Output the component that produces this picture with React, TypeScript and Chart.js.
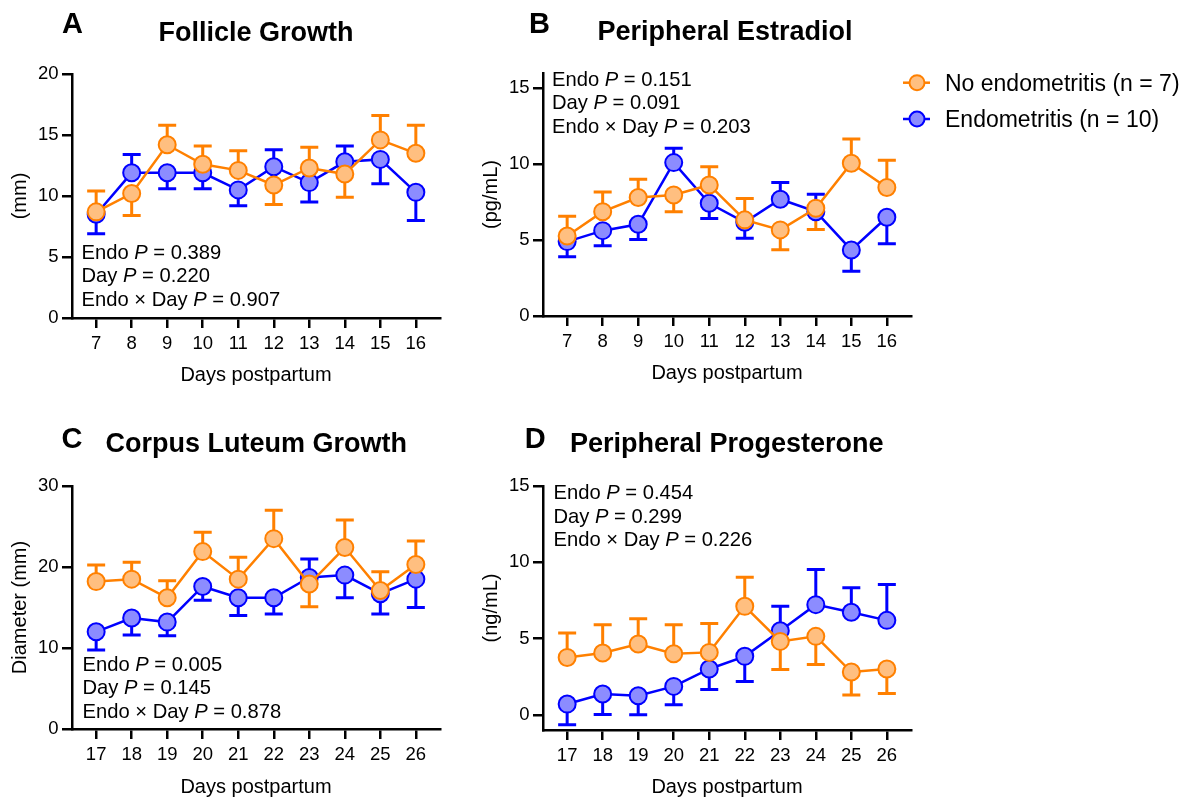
import React, { useEffect, useRef } from 'react';
import { Chart, registerables } from 'chart.js';

Chart.register(...registerables);

// ---------------- data ----------------
const daysEarly = [7, 8, 9, 10, 11, 12, 13, 14, 15, 16];
const daysLate = [17, 18, 19, 20, 21, 22, 23, 24, 25, 26];

// A: Follicle growth (mm); errors are SEM, sign gives drawing direction (+ up, - down)
const follicleNoEndo = [8.7, 10.2, 14.2, 12.6, 12.1, 10.9, 12.3, 11.8, 14.6, 13.5];
const follicleNoEndoErr = [1.7, -1.8, 1.6, 1.5, 1.6, -1.6, 1.7, -1.9, 2.0, 2.3];
const follicleEndo = [8.5, 11.9, 11.9, 11.9, 10.5, 12.4, 11.1, 12.8, 13.0, 10.3];
const follicleEndoErr = [-1.6, 1.5, -1.3, -1.3, -1.3, 1.4, -1.6, 1.3, -2.0, -2.3];

// B: Peripheral estradiol (pg/mL)
const e2NoEndo = [5.27, 6.87, 7.8, 7.97, 8.63, 6.33, 5.67, 7.09, 10.06, 8.46];
const e2NoEndoErr = [1.3, 1.3, 1.2, -1.1, 1.2, 1.4, -1.3, -1.4, 1.6, 1.8];
const e2Endo = [4.9, 5.62, 6.04, 10.1, 7.42, 6.17, 7.69, 6.87, 4.35, 6.5];
const e2EndoErr = [-1.0, -1.0, -1.0, 0.95, -1.0, -1.05, 1.1, 1.15, -1.4, -1.75];

// C: Corpus luteum diameter (mm)
const clNoEndo = [18.2, 18.5, 16.2, 21.9, 18.5, 23.5, 17.9, 22.4, 17.1, 20.3];
const clNoEndoErr = [2.05, 2.1, 2.1, 2.4, 2.7, 3.5, -2.8, 3.4, 2.3, 2.9];
const clEndo = [12.0, 13.7, 13.2, 17.6, 16.2, 16.2, 18.7, 19.0, 16.7, 18.5];
const clEndoErr = [-2.25, -2.1, -1.7, -1.7, -2.2, -2.0, 2.3, -2.8, -2.5, -3.5];

// D: Peripheral progesterone (ng/mL)
const p4NoEndo = [3.76, 4.05, 4.64, 4.0, 4.09, 7.11, 4.81, 5.14, 2.8, 3.0];
const p4NoEndoErr = [1.6, 1.85, 1.65, 1.9, 1.9, 1.9, -1.85, -1.85, -1.5, -1.6];
const p4Endo = [0.7, 1.36, 1.25, 1.86, 3.0, 3.83, 5.51, 7.22, 6.72, 6.19];
const p4EndoErr = [-1.35, -1.35, -1.25, -1.2, -1.35, -1.65, 1.6, 2.3, 1.6, 2.35];

const ticksA = [0, 5, 10, 15, 20];
const ticksB = [0, 5, 10, 15];
const ticksC = [0, 10, 20, 30];
const ticksD = [0, 5, 10, 15];

const statsA = ['0.389', '0.220', '0.907'];
const statsB = ['0.151', '0.091', '0.203'];
const statsC = ['0.005', '0.145', '0.878'];
const statsD = ['0.454', '0.299', '0.226'];

const seriesLabels = ['No endometritis (n = 7)', 'Endometritis (n = 10)'];

// ---------------- styles ----------------
const FONT = '"Liberation Sans", Arial, Helvetica, sans-serif';
const ORANGE = '#FF8000';
const ORANGE_FILL = '#FFBF80';
const BLUE = '#0000FF';
const BLUE_FILL = '#8C8CFF';

type Seg = { t: string; i?: boolean };

function drawRich(ctx: CanvasRenderingContext2D, segs: Seg[], x: number, y: number, size: number) {
  let cx = x;
  ctx.textBaseline = 'alphabetic';
  ctx.textAlign = 'left';
  for (const s of segs) {
    ctx.font = `${s.i ? 'italic ' : ''}${size}px ${FONT}`;
    ctx.fillText(s.t, cx, y);
    cx += ctx.measureText(s.t).width;
  }
}

const errorBarPlugin = {
  id: 'errorBars',
  beforeDatasetsDraw(chart: any) {
    const ctx = chart.ctx;
    const ys = chart.scales.y;
    chart.data.datasets.forEach((ds: any, i: number) => {
      const meta = chart.getDatasetMeta(i);
      ctx.save();
      ctx.strokeStyle = ds.borderColor;
      ctx.lineWidth = 3;
      ctx.lineCap = 'butt';
      meta.data.forEach((pt: any, j: number) => {
        const v = ds.data[j].y;
        const e = ds.errors[j];
        const yEnd = ys.getPixelForValue(v + e);
        ctx.beginPath();
        ctx.moveTo(pt.x, pt.y);
        ctx.lineTo(pt.x, yEnd);
        ctx.moveTo(pt.x - 9, yEnd);
        ctx.lineTo(pt.x + 9, yEnd);
        ctx.stroke();
      });
      ctx.restore();
    });
  },
};

type PanelProps = {
  left: number; top: number; width: number; height: number;
  area: { l: number; t: number; r: number; b: number };
  days: number[];
  noEndo: number[]; noEndoErr: number[];
  endo: number[]; endoErr: number[];
  yMin: number; yMax: number; yTicks: number[];
  yTitle: string; yTitlePad: number; xTitlePad: number;
  letter: string; letterX: number; letterY: number;
  title: string; titleX: number; titleY: number;
  stats: string[]; statsX: number; statsY: number;
  legend?: { x: number; y1: number; y2: number };
};

function Panel(p: PanelProps) {
  const ref = useRef<HTMLCanvasElement | null>(null);
  useEffect(() => {
    if (!ref.current) return;
    const textPlugin = {
      id: 'panelText',
      afterDraw(chart: any) {
        const ctx: CanvasRenderingContext2D = chart.ctx;
        ctx.save();
        ctx.fillStyle = '#000';
        ctx.textBaseline = 'alphabetic';
        ctx.textAlign = 'left';
        ctx.font = `bold 29px ${FONT}`;
        ctx.fillText(p.letter, p.letterX, p.letterY);
        ctx.textAlign = 'center';
        ctx.font = `bold 27px ${FONT}`;
        ctx.fillText(p.title, p.titleX, p.titleY);
        const lines: Seg[][] = [
          [{ t: 'Endo ' }, { t: 'P', i: true }, { t: ' = ' + p.stats[0] }],
          [{ t: 'Day ' }, { t: 'P', i: true }, { t: ' = ' + p.stats[1] }],
          [{ t: 'Endo \u00d7 Day ' }, { t: 'P', i: true }, { t: ' = ' + p.stats[2] }],
        ];
        lines.forEach((l, k) => drawRich(ctx, l, p.statsX, p.statsY + k * 23.3, 20.2));
        if (p.legend) {
          const lg = p.legend;
          const items = [
            { y: lg.y1, c: ORANGE, f: ORANGE_FILL, t: seriesLabels[0] },
            { y: lg.y2, c: BLUE, f: BLUE_FILL, t: seriesLabels[1] },
          ];
          items.forEach((it) => {
            ctx.strokeStyle = it.c;
            ctx.lineWidth = 2.5;
            ctx.beginPath();
            ctx.moveTo(lg.x - 14, it.y);
            ctx.lineTo(lg.x + 13, it.y);
            ctx.stroke();
            ctx.beginPath();
            ctx.arc(lg.x, it.y, 7.5, 0, Math.PI * 2);
            ctx.fillStyle = it.f;
            ctx.fill();
            ctx.lineWidth = 2;
            ctx.stroke();
            ctx.fillStyle = '#000';
            ctx.textAlign = 'left';
            ctx.font = `23px ${FONT}`;
            ctx.fillText(it.t, lg.x + 28, it.y + 8);
          });
        }
        ctx.restore();
      },
    };
    const mk = (vals: number[]) => p.days.map((d, i) => ({ x: d, y: vals[i] }));
    const chart = new Chart(ref.current, {
      type: 'line',
      data: {
        datasets: [
          {
            label: seriesLabels[0],
            data: mk(p.noEndo),
            errors: p.noEndoErr,
            borderColor: ORANGE,
            backgroundColor: ORANGE_FILL,
            pointBackgroundColor: ORANGE_FILL,
            pointBorderColor: ORANGE,
            pointRadius: 8.5,
            pointBorderWidth: 2,
            borderWidth: 2.5,
            tension: 0,
            clip: false,
          } as any,
          {
            label: seriesLabels[1],
            data: mk(p.endo),
            errors: p.endoErr,
            borderColor: BLUE,
            backgroundColor: BLUE_FILL,
            pointBackgroundColor: BLUE_FILL,
            pointBorderColor: BLUE,
            pointRadius: 8.5,
            pointBorderWidth: 2,
            borderWidth: 2.5,
            tension: 0,
            clip: false,
          } as any,
        ],
      },
      options: {
        animation: false,
        responsive: false,
        events: [],
        layout: {
          autoPadding: false,
          padding: { left: 0, top: p.area.t, right: p.width - p.area.r, bottom: 0 },
        },
        plugins: { legend: { display: false }, tooltip: { enabled: false }, title: { display: false } },
        scales: {
          x: {
            type: 'linear',
            min: p.days[0] - 0.68,
            max: p.days[p.days.length - 1] + 0.68,
            afterBuildTicks: (ax: any) => { ax.ticks = p.days.map((v) => ({ value: v })); },
            afterFit: (s: any) => { s.height = p.height - p.area.b; },
            grid: { display: true, drawOnChartArea: false, drawTicks: true, tickLength: 10, color: '#000', lineWidth: 2.5 },
            border: { display: true, color: '#000', width: 2.5 },
            ticks: { color: '#000', font: { family: FONT, size: 18.5 }, padding: 5, maxRotation: 0, autoSkip: false },
            title: { display: true, text: 'Days postpartum', color: '#000', font: { family: FONT, size: 20 }, padding: { top: 0, bottom: p.xTitlePad } },
          },
          y: {
            min: p.yMin,
            max: p.yMax,
            afterBuildTicks: (ax: any) => { ax.ticks = p.yTicks.map((v) => ({ value: v })); },
            afterFit: (s: any) => { s.width = p.area.l; },
            grid: { display: true, drawOnChartArea: false, drawTicks: true, tickLength: 10, color: '#000', lineWidth: 2.5 },
            border: { display: true, color: '#000', width: 2.5 },
            ticks: { color: '#000', font: { family: FONT, size: 18.5 }, padding: 3.5 },
            title: { display: true, text: p.yTitle, color: '#000', font: { family: FONT, size: 20 }, padding: { top: p.yTitlePad, bottom: 0 } },
          },
        },
      } as any,
      plugins: [errorBarPlugin, textPlugin],
    });
    return () => chart.destroy();
  }, []);
  return (
    <canvas
      ref={ref}
      width={p.width}
      height={p.height}
      style={{ position: 'absolute', left: p.left, top: p.top, width: p.width, height: p.height }}
    />
  );
}

export default function App() {
  return (
    <div style={{ position: 'absolute', left: 0, top: 0, width: 1191, height: 800, overflow: 'hidden', background: '#fff' }}>
      <Panel
        left={0} top={0} width={470} height={400}
        area={{ l: 72, t: 74, r: 440, b: 318 }}
        days={daysEarly}
        noEndo={follicleNoEndo} noEndoErr={follicleNoEndoErr}
        endo={follicleEndo} endoErr={follicleEndoErr}
        yMin={0} yMax={20} yTicks={ticksA}
        yTitle="(mm)" yTitlePad={8} xTitlePad={13}
        letter="A" letterX={62} letterY={33.3}
        title="Follicle Growth" titleX={256} titleY={40.5}
        stats={statsA} statsX={81.5} statsY={259}
      />
      <Panel
        left={470} top={0} width={721} height={400}
        area={{ l: 73, t: 73, r: 441, b: 316 }}
        days={daysEarly}
        noEndo={e2NoEndo} noEndoErr={e2NoEndoErr}
        endo={e2Endo} endoErr={e2EndoErr}
        yMin={0} yMax={16} yTicks={ticksB}
        yTitle="(pg/mL)" yTitlePad={9} xTitlePad={15}
        letter="B" letterX={59} letterY={33.3}
        title="Peripheral Estradiol" titleX={255} titleY={40}
        stats={statsB} statsX={82} statsY={86}
        legend={{ x: 447, y1: 82.7, y2: 119 }}
      />
      <Panel
        left={0} top={400} width={470} height={400}
        area={{ l: 72, t: 86, r: 440, b: 329 }}
        days={daysLate}
        noEndo={clNoEndo} noEndoErr={clNoEndoErr}
        endo={clEndo} endoErr={clEndoErr}
        yMin={0} yMax={30} yTicks={ticksC}
        yTitle="Diameter (mm)" yTitlePad={8} xTitlePad={1}
        letter="C" letterX={61.5} letterY={47.7}
        title="Corpus Luteum Growth" titleX={256.3} titleY={52.3}
        stats={statsC} statsX={82.5} statsY={271}
      />
      <Panel
        left={470} top={400} width={721} height={400}
        area={{ l: 73, t: 86, r: 441, b: 330 }}
        days={daysLate}
        noEndo={p4NoEndo} noEndoErr={p4NoEndoErr}
        endo={p4Endo} endoErr={p4EndoErr}
        yMin={-1} yMax={15} yTicks={ticksD}
        yTitle="(ng/mL)" yTitlePad={9} xTitlePad={1}
        letter="D" letterX={54.7} letterY={47.7}
        title="Peripheral Progesterone" titleX={256.7} titleY={52.3}
        stats={statsD} statsX={83.5} statsY={99.3}
      />
    </div>
  );
}
